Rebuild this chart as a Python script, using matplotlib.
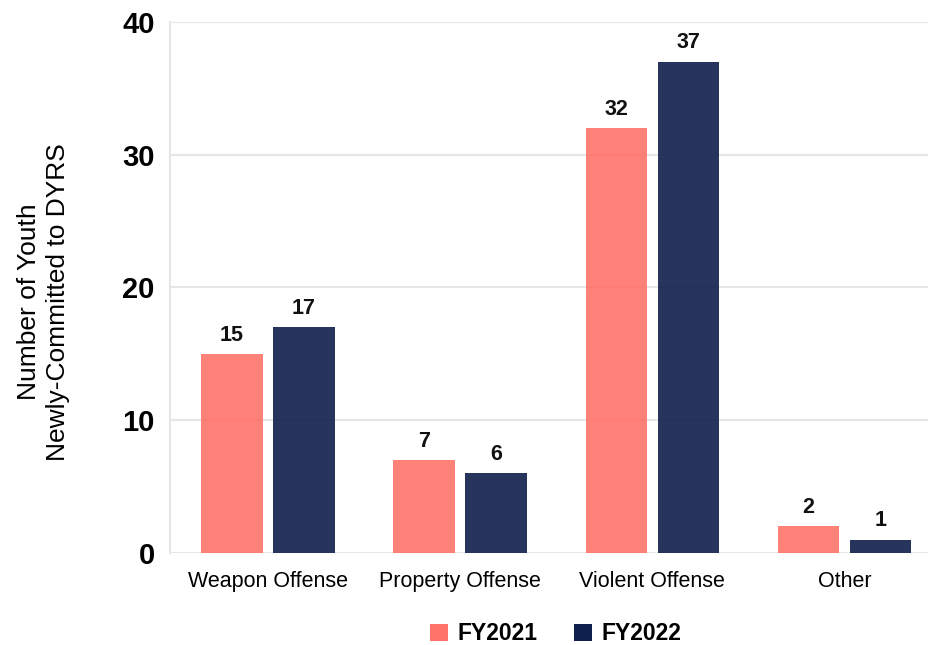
import matplotlib

matplotlib.use("Agg")
import matplotlib.pyplot as plt
import numpy as np

plt.rcParams["font.family"] = ["Liberation Sans", "DejaVu Sans"]

categories = ["Weapon Offense", "Property Offense", "Violent Offense", "Other"]
fy2021 = [15, 7, 32, 2]
fy2022 = [17, 6, 37, 1]
series_names = ["FY2021", "FY2022"]
yticks = [0, 10, 20, 30, 40]

PINK = "#FF7369"
NAVY = "#0F1F4B"
BAR_W = 0.32
OFFSET = 0.1875

fig = plt.figure(figsize=(9.29, 6.45), dpi=100)
ax = fig.add_axes([0.183, 0.1426, 0.817, 0.8234])

x = np.arange(len(categories))
b1 = ax.bar(x - OFFSET, fy2021, BAR_W, color=PINK, alpha=0.9, label=series_names[0], zorder=3)
b2 = ax.bar(x + OFFSET, fy2022, BAR_W, color=NAVY, alpha=0.9, label=series_names[1], zorder=3)

for bars in (b1, b2):
    for rect in bars:
        ax.annotate(
            f"{rect.get_height():g}",
            (rect.get_x() + rect.get_width() / 2, rect.get_height()),
            xytext=(0, 6),
            textcoords="offset points",
            ha="center",
            va="bottom",
            fontsize=15.5,
            fontweight="bold",
            color="#111111",
        )

ax.set_xlim(-0.51, 3.44)
ax.set_ylim(0, 40)
ax.set_yticks(yticks)
ax.set_yticklabels([str(t) for t in yticks], fontsize=21, fontweight="bold")
ax.set_xticks(x)
ax.set_xticklabels(categories, fontsize=15.5)
ax.tick_params(axis="x", length=0, pad=13)
ax.tick_params(axis="y", length=0, pad=11)

ax.grid(axis="y", color="#E6E6E6", linewidth=1.5, zorder=0)
for side in ("top", "right", "bottom"):
    ax.spines[side].set_visible(False)
ax.spines["left"].set_color("#E6E6E6")
ax.spines["left"].set_linewidth(1.5)

ax.set_ylabel("Number of Youth\nNewly-Committed to DYRS", fontsize=19, linespacing=1.25)
ax.yaxis.set_label_coords(-0.132, 0.473)

leg = fig.legend(
    handles=[b1, b2],
    labels=series_names,
    loc="center",
    bbox_to_anchor=(0.598, 1 - 634 / 645),
    ncol=2,
    frameon=False,
    prop={"size": 16.5, "weight": "bold"},
    handlelength=0.8,
    handleheight=0.8,
    handletextpad=0.4,
    columnspacing=1.6,
    borderpad=0.1,
)
for h in leg.legend_handles:
    h.set_alpha(1.0)

fig.savefig("out.png", dpi=100)
